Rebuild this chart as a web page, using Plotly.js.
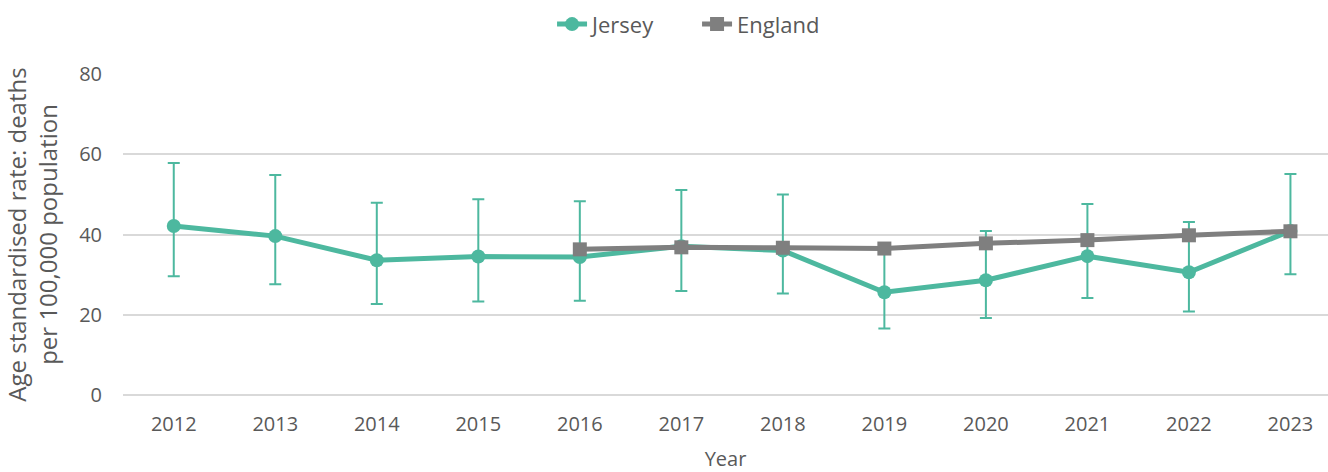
<!DOCTYPE html>
<html>
<head>
<meta charset="utf-8">
<script src="https://cdn.plot.ly/plotly-3.0.1.min.js"></script>
<style>
  html, body { margin: 0; padding: 0; background: #ffffff; }
  #chart { width: 1328px; height: 472px; }
</style>
</head>
<body>
<div id="chart"></div>
<script>
// Years on the category axis
const years = ['2012', '2013', '2014', '2015', '2016', '2017', '2018', '2019', '2020', '2021', '2022', '2023'];

// Jersey: age standardised rate with 95% confidence limits
const jerseyRate  = [42.1, 39.6, 33.6, 34.5, 34.4, 37.1, 36.0, 25.6, 28.6, 34.6, 30.6, 40.9];
const jerseyUpper = [57.8, 54.8, 47.9, 48.8, 48.3, 51.1, 50.0, 36.4, 40.9, 47.6, 43.1, 55.1];
const jerseyLower = [29.6, 27.6, 22.7, 23.3, 23.5, 25.9, 25.3, 16.6, 19.2, 24.2, 20.8, 30.1];

// England: rate (available from 2016)
const englandRate = [null, null, null, null, 36.3, 36.8, 36.7, 36.5, 37.8, 38.6, 39.8, 40.8];

const TEAL = '#4db89f';
const GREY = '#7f7f7f';
const TEXT = '#595959';
const FONT = 'Open Sans, sans-serif';

const errPlus  = jerseyUpper.map((u, i) => u - jerseyRate[i]);
const errMinus = jerseyLower.map((l, i) => jerseyRate[i] - l);

const traces = [
  {
    name: 'Jersey',
    x: years,
    y: jerseyRate,
    type: 'scatter',
    mode: 'lines+markers',
    line: { color: TEAL, width: 5 },
    marker: { color: TEAL, size: 14, symbol: 'circle' },
    error_y: {
      type: 'data',
      symmetric: false,
      array: errPlus,
      arrayminus: errMinus,
      color: TEAL,
      thickness: 2,
      width: 6
    }
  },
  {
    name: 'England',
    x: years,
    y: englandRate,
    type: 'scatter',
    mode: 'lines+markers',
    connectgaps: false,
    line: { color: GREY, width: 5 },
    marker: { color: GREY, size: 14, symbol: 'square' }
  }
];

const layout = {
  width: 1328,
  height: 472,
  margin: { l: 123, r: 0, t: 74, b: 77 },
  paper_bgcolor: '#ffffff',
  plot_bgcolor: '#ffffff',
  font: { family: FONT, size: 20, color: TEXT },
  showlegend: true,
  legend: {
    orientation: 'h',
    xref: 'container',
    yref: 'container',
    x: 0.4157,
    xanchor: 'left',
    y: 0.993,
    yanchor: 'top',
    font: { family: FONT, size: 22, color: TEXT },
    entrywidth: 100,
    entrywidthmode: 'pixels',
    tracegroupgap: 0
  },
  xaxis: {
    type: 'category',
    range: [-0.5, 11.37],
    showgrid: false,
    showline: false,
    zeroline: false,
    ticks: '',
    ticklabelstandoff: 15,
    tickfont: { family: FONT, size: 20, color: TEXT },
    title: { text: 'Year', font: { family: FONT, size: 20, color: TEXT }, standoff: 23 },
    automargin: false,
    fixedrange: true
  },
  yaxis: {
    range: [0, 80],
    dtick: 20,
    tick0: 0,
    showgrid: true,
    gridcolor: '#d9d9d9',
    gridwidth: 2,
    zeroline: true,
    zerolinecolor: '#d9d9d9',
    zerolinewidth: 2,
    showline: false,
    ticks: '',
    ticklabelstandoff: 20,
    tickfont: { family: FONT, size: 20, color: TEXT },
    title: {
      text: 'Age standardised rate: deaths<br>per 100,000 population',
      font: { family: FONT, size: 24, color: TEXT },
      standoff: 14
    },
    automargin: false,
    fixedrange: true
  }
};

Plotly.newPlot('chart', traces, layout, { displayModeBar: false, staticPlot: true });
</script>
</body>
</html>
